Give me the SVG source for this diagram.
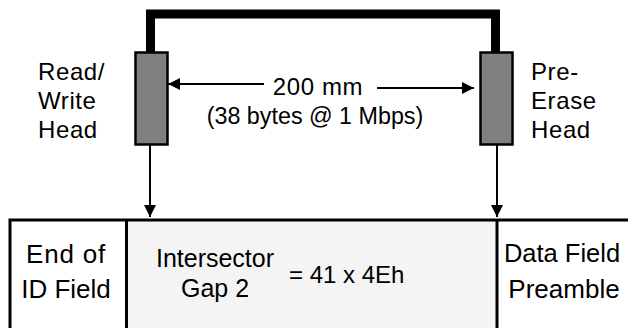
<svg xmlns="http://www.w3.org/2000/svg" width="628" height="328" viewBox="0 0 628 328">
<defs>
<style>
text{font-family:"Liberation Sans",Arial,sans-serif;fill:#000}
.lbl{font-size:24px;letter-spacing:0.6px}
.fld{font-size:26px}
.head{fill:#808080;stroke:#000;stroke-width:2.5}
.wire{fill:none;stroke:#000;stroke-width:9}
.arr{stroke:#000;stroke-width:2;fill:none}
.cell{stroke:none}
.bord{stroke:#000;stroke-width:3;fill:none}
</style>
<marker id="ah" viewBox="0 0 12 12" refX="12" refY="6" markerWidth="12" markerHeight="12" markerUnits="userSpaceOnUse" orient="auto">
<path d="M0,0 L12,6 L0,12 Z" fill="#000"/>
</marker>
</defs>
<rect width="628" height="328" fill="#fff"/>
<g id="connectors">
<path class="wire" d="M150.5,52 V14 H495.5 V52"/>
<line class="arr" x1="264" y1="84" x2="168" y2="84" marker-end="url(#ah)"/>
<line class="arr" x1="377" y1="88" x2="474" y2="88" marker-end="url(#ah)"/>
<line class="arr" x1="150" y1="145" x2="150" y2="217" marker-end="url(#ah)"/>
<line class="arr" x1="497" y1="145" x2="497" y2="217" marker-end="url(#ah)"/>
</g>
<g id="read-write-head">
<rect class="head" x="135.5" y="52.5" width="32" height="92"/>
<text class="lbl" x="38" y="80">Read/</text>
<text class="lbl" x="38" y="109">Write</text>
<text class="lbl" x="38" y="138">Head</text>
</g>
<g id="pre-erase-head">
<rect class="head" x="480.5" y="52.5" width="32" height="92"/>
<text class="lbl" x="531" y="80">Pre-</text>
<text class="lbl" x="531" y="109">Erase</text>
<text class="lbl" x="531" y="138">Head</text>
</g>
<g id="distance-label">
<text class="lbl" x="318" y="95" text-anchor="middle">200 mm</text>
<text class="lbl" x="315" y="124" text-anchor="middle" style="letter-spacing:0;font-size:23.3px">(38 bytes @ 1 Mbps)</text>
</g>
<g id="end-of-id-field">
<rect class="cell" x="10" y="220" width="116.5" height="110" fill="#fff"/>
<text class="fld" x="66" y="263" text-anchor="middle" style="letter-spacing:0.8px">End of</text>
<text class="fld" x="66" y="298" text-anchor="middle">ID Field</text>
</g>
<g id="intersector-gap">
<rect class="cell" x="126.5" y="220" width="370.5" height="110" fill="#f4f4f4"/>
<text class="fld" x="215" y="267" text-anchor="middle" style="font-size:25px">Intersector</text>
<text class="fld" x="215" y="297" text-anchor="middle" style="font-size:25px">Gap 2</text>
<text class="fld" x="289" y="283" style="font-size:24px">= 41 x 4Eh</text>
</g>
<g id="data-field-preamble">
<rect class="cell" x="497" y="220" width="135" height="110" fill="#fff"/>
<text class="fld" x="562" y="262" text-anchor="middle" style="font-size:25.5px">Data Field</text>
<text class="fld" x="564" y="298" text-anchor="middle">Preamble</text>
</g>
<g id="box-lines">
<path class="bord" d="M10,330 V220 H630 M126.5,220 V330 M497,220 V330"/>
</g>
</svg>
